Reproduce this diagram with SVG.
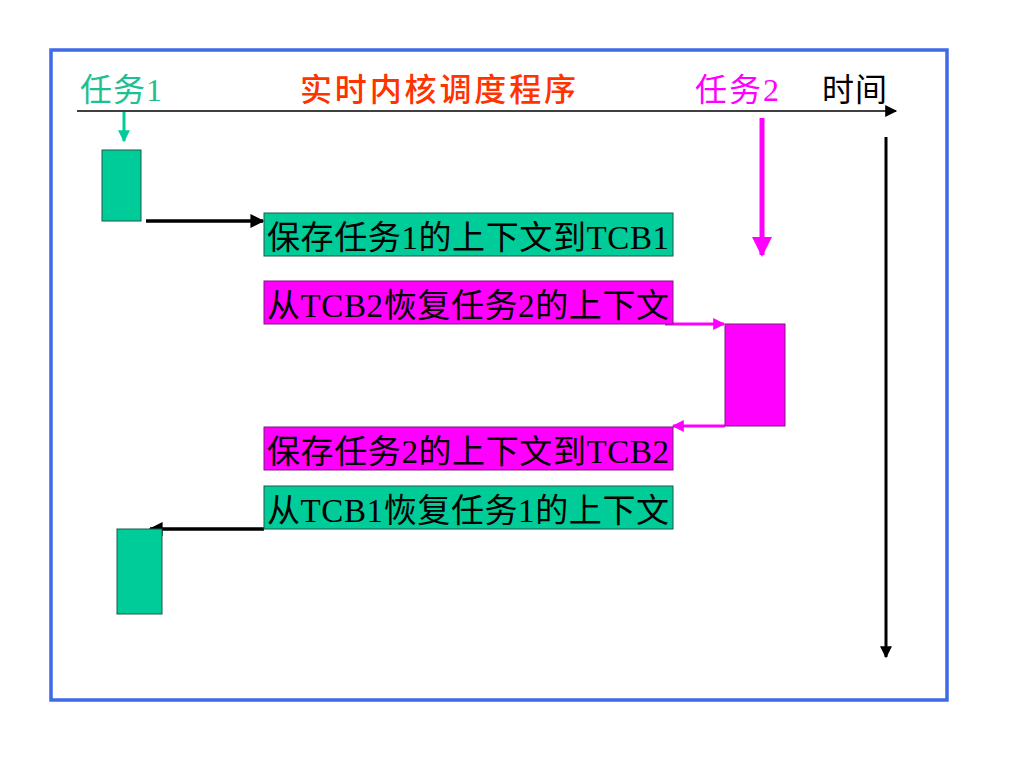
<svg xmlns="http://www.w3.org/2000/svg" width="1024" height="768" viewBox="0 0 1024 768">
<style>
.lbl{font-family:"Liberation Serif","Noto Sans CJK SC",serif;font-size:32px}
.box{font-family:"Liberation Serif","Noto Sans CJK SC",serif;font-size:33px;fill:#000}
.g{fill:#00CC99;stroke:#1a5a48;stroke-width:1}
.m{fill:#FF00FF;stroke:#7a1a7a;stroke-width:1}
</style>
<defs>
<marker id="ak" viewBox="0 0 10 10" refX="9" refY="5" markerWidth="4" markerHeight="4" orient="auto" markerUnits="strokeWidth"><path d="M0,0L10,5L0,10z" fill="#000"/></marker>
<marker id="akt" viewBox="0 0 10 10" refX="9" refY="5" markerWidth="10" markerHeight="8" orient="auto" markerUnits="strokeWidth"><path d="M0,0L10,5L0,10z" fill="#000"/></marker>
<marker id="ag" viewBox="0 0 10 10" refX="9" refY="5" markerWidth="4" markerHeight="4" orient="auto" markerUnits="strokeWidth"><path d="M0,0L10,5L0,10z" fill="#00CC99"/></marker>
<marker id="am" viewBox="0 0 10 10" refX="9" refY="5" markerWidth="4" markerHeight="4" orient="auto" markerUnits="strokeWidth"><path d="M0,0L10,5L0,10z" fill="#FF00FF"/></marker>
<marker id="am2" viewBox="0 0 10 10" refX="9" refY="5" markerWidth="5" markerHeight="4" orient="auto" markerUnits="strokeWidth"><path d="M0,0L10,5L0,10z" fill="#FF00FF"/></marker>
</defs>
<rect x="0" y="0" width="1024" height="768" fill="#fff"/>
<rect x="51" y="50" width="896" height="650" fill="none" stroke="#3F6AE8" stroke-width="3.5"/>

<g id="labels">
<text class="lbl" x="80" y="101" fill="#1FC08F" textLength="82">任务1</text>
<text class="lbl" x="300" y="101" fill="#FF3300" font-weight="500" textLength="276">实时内核调度程序</text>
<text class="lbl" x="695" y="101" fill="#FF00FF" textLength="84">任务2</text>
<text class="lbl" x="822" y="101" fill="#000" textLength="65">时间</text>
</g>

<g id="connectors">
<line x1="77" y1="111" x2="896" y2="111" stroke="#000" stroke-width="1.5" marker-end="url(#akt)"/>
<line x1="886" y1="137" x2="886" y2="657" stroke="#000" stroke-width="3" marker-end="url(#ak)"/>
<line x1="124" y1="112" x2="124" y2="141" stroke="#00CC99" stroke-width="3" marker-end="url(#ag)"/>
<line x1="762" y1="118" x2="762" y2="255" stroke="#FF00FF" stroke-width="5" marker-end="url(#am)"/>
<line x1="146" y1="221" x2="263" y2="221" stroke="#000" stroke-width="3.5" marker-end="url(#ak)"/>
<line x1="665" y1="324" x2="724" y2="324" stroke="#FF00FF" stroke-width="3" marker-end="url(#am2)"/>
<line x1="725" y1="426" x2="673" y2="426" stroke="#FF00FF" stroke-width="3" marker-end="url(#am2)"/>
<line x1="264" y1="529" x2="150" y2="529" stroke="#000" stroke-width="3.5" marker-end="url(#ak)"/>
</g>

<g id="task1-run1"><rect class="g" x="102" y="150" width="39" height="71"/></g>
<g id="task2-run"><rect class="m" x="725" y="324" width="60" height="102"/></g>
<g id="task1-run2"><rect class="g" x="117" y="529" width="45" height="85"/></g>

<g id="save1"><rect class="g" x="264" y="213" width="409" height="43"/>
<text class="box" x="267" y="249" textLength="402">保存任务1的上下文到TCB1</text></g>
<g id="restore2"><rect class="m" x="264" y="281" width="409" height="43"/>
<text class="box" x="267" y="317" textLength="402">从TCB2恢复任务2的上下文</text></g>
<g id="save2"><rect class="m" x="264" y="427" width="409" height="43"/>
<text class="box" x="267" y="463" textLength="402">保存任务2的上下文到TCB2</text></g>
<g id="restore1"><rect class="g" x="264" y="486" width="409" height="43"/>
<text class="box" x="267" y="522" textLength="402">从TCB1恢复任务1的上下文</text></g>
</svg>
